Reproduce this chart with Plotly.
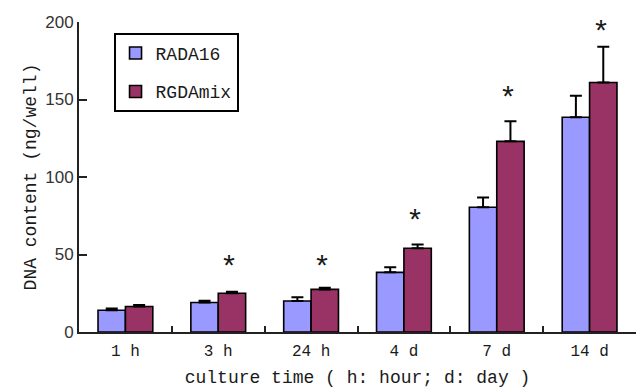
import plotly.graph_objects as go

# Culture time points and measured DNA content (mean, upper SD)
categories = ["1 h", "3 h", "24 h", "4 d", "7 d", "14 d"]
rada16 = [14.0, 19.0, 20.0, 38.5, 80.5, 138.5]
rada16_err = [1.2, 1.2, 2.5, 3.2, 6.2, 14.0]
rgdamix = [16.5, 25.0, 27.5, 54.0, 123.0, 161.0]
rgdamix_err = [1.0, 1.0, 1.0, 2.5, 13.0, 23.0]
# Height of the significance marker above each group (None = no marker)
star_level = [None, 45, 45, 75, 154, 197]

MONO = "Liberation Mono"
SANS = "Liberation Sans"
INK = "#1a1a1a"

fig = go.Figure()
for name, vals, errs, color in [
    ("RADA16", rada16, rada16_err, "#9999FF"),
    ("RGDAmix", rgdamix, rgdamix_err, "#993366"),
]:
    fig.add_trace(go.Bar(
        name=name, x=categories, y=vals,
        marker=dict(color=color, line=dict(color="black", width=1.6)),
        error_y=dict(type="data", array=errs, arrayminus=[0] * len(errs),
                     symmetric=False, color="black", thickness=2, width=6),
        legendgroup=name,
    ))

for cat, lvl in zip(categories, star_level):
    if lvl is None:
        continue
    fig.add_annotation(x=cat, y=lvl, xref="x", yref="y", text="*",
                       showarrow=False, xshift=11, yshift=-7, yanchor="middle",
                       font=dict(family=MONO, size=30, color=INK))

fig.update_layout(
    width=636, height=392,
    margin=dict(l=79, r=0, t=22, b=60),
    paper_bgcolor="white", plot_bgcolor="white",
    barmode="group", bargap=0.41, bargroupgap=0,
    legend=dict(x=0.062, y=0.965, xanchor="left", yanchor="top",
                bordercolor="black", borderwidth=2,
                font=dict(family=MONO, size=18, color=INK),
                tracegroupgap=12, traceorder="grouped"),
    showlegend=True,
)
fig.update_xaxes(
    type="category", showline=True, linecolor="#222", linewidth=2,
    ticks="inside", tickson="boundaries", ticklen=6, tickwidth=2, tickcolor="#222",
    tickfont=dict(family=MONO, size=16, color=INK), ticklabelstandoff=3,
    title=dict(text="culture time ( h: hour; d: day )",
               font=dict(family=MONO, size=18, color=INK), standoff=10),
    showgrid=False, zeroline=False,
)
fig.update_yaxes(
    range=[0, 200], tickvals=[0, 50, 100, 150, 200],
    showline=True, linecolor="#222", linewidth=2,
    ticks="inside", ticklen=8, tickwidth=2, tickcolor="#222",
    tickfont=dict(family=SANS, size=17, color="#333"),
    title=dict(text="DNA content (ng/well)",
               font=dict(family=MONO, size=18, color=INK), standoff=4),
    showgrid=False, zeroline=False,
)

fig.write_html("out.html")
